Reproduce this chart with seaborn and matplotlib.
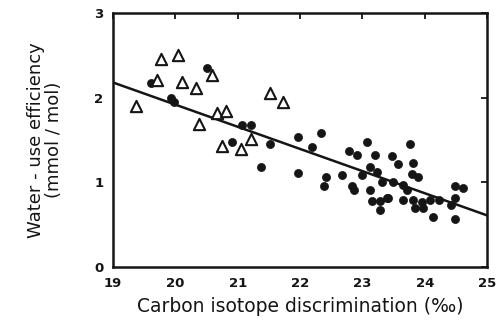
import numpy as np
import pandas as pd
import matplotlib
matplotlib.use("Agg")
import matplotlib.pyplot as plt
import seaborn as sns

# Open triangles
tri_x = [19.37, 19.71, 19.77, 20.05, 20.11, 20.33, 20.59, 20.38, 20.67, 20.82,
         20.75, 21.06, 21.22, 21.52, 21.72]
tri_y = [1.90, 2.21, 2.46, 2.51, 2.18, 2.11, 2.27, 1.69, 1.82, 1.84,
         1.43, 1.39, 1.51, 2.05, 1.95]

# Filled circles
dot_x = [19.61, 19.93, 19.98, 20.50, 20.91, 21.07, 21.22, 21.52, 21.38, 21.96,
         21.96, 22.34, 22.20, 22.42, 22.39, 22.67, 22.79, 22.92, 23.08, 23.21,
         23.12, 23.24, 22.99, 22.83, 22.87, 23.12, 23.15, 23.28, 23.41, 23.28,
         23.47, 23.57, 23.77, 23.81, 23.79, 23.89, 23.49, 23.32, 23.65, 23.71,
         23.39, 23.65, 23.81, 23.95, 23.84, 23.97, 24.08, 24.23, 24.13, 24.48,
         24.61, 24.48, 24.43, 24.48]
dot_y = [2.17, 2.00, 1.95, 2.35, 1.48, 1.68, 1.68, 1.45, 1.18, 1.53,
         1.11, 1.58, 1.42, 1.06, 0.96, 1.09, 1.37, 1.32, 1.48, 1.32,
         1.18, 1.12, 1.09, 0.96, 0.91, 0.91, 0.78, 0.78, 0.81, 0.67,
         1.31, 1.22, 1.45, 1.23, 1.10, 1.06, 1.00, 1.00, 0.97, 0.91,
         0.81, 0.79, 0.79, 0.77, 0.70, 0.70, 0.79, 0.79, 0.59, 0.96,
         0.93, 0.81, 0.73, 0.57]

# Regression line end points
fit_x = [19.0, 25.0]
fit_y = [2.18, 0.61]

x_ticks = [19, 20, 21, 22, 23, 24, 25]
y_ticks = [0, 1, 2, 3]

sns.set_style("white")
plt.rcParams['font.family'] = ['DejaVu Sans']

fig = plt.figure(figsize=(4.99, 3.27), dpi=100)
ax = fig.add_axes([0.2265, 0.1835, 0.7495, 0.7765])

ink = "#151515"
df_dot = pd.DataFrame({"x": dot_x, "y": dot_y})
df_tri = pd.DataFrame({"x": tri_x, "y": tri_y})
df_fit = pd.DataFrame({"x": fit_x, "y": fit_y})

sns.lineplot(data=df_fit, x="x", y="y", ax=ax, color=ink, linewidth=1.8, zorder=2)
sns.scatterplot(data=df_dot, x="x", y="y", ax=ax, marker="o", s=34,
                color=ink, edgecolor=ink, linewidth=0.5, zorder=3)
sns.scatterplot(data=df_tri, x="x", y="y", ax=ax, marker="^", s=66,
                facecolor="white", edgecolor=ink, linewidth=1.5, zorder=4)

ax.set_xlim(19, 25)
ax.set_ylim(0, 3)
ax.set_xticks(x_ticks)
ax.set_yticks(y_ticks)
ax.set_xticklabels([str(t) for t in x_ticks], fontsize=9.5, fontweight="bold", color=ink)
ax.set_yticklabels([str(t) for t in y_ticks], fontsize=9.5, fontweight="bold", color=ink)
ax.tick_params(direction="in", length=4, width=1.3, top=True, right=True,
               colors=ink, pad=7)
for sp in ax.spines.values():
    sp.set_linewidth(1.8)
    sp.set_color(ink)
    sp.set_visible(True)

ax.set_xlabel("Carbon isotope discrimination (\u2030)", fontsize=13.5, color=ink, labelpad=5)
ax.set_ylabel("Water - use efficiency\n(mmol / mol)", fontsize=13, color=ink,
              labelpad=22, linespacing=1.05)

fig.savefig("out.png", dpi=100, facecolor="white")
